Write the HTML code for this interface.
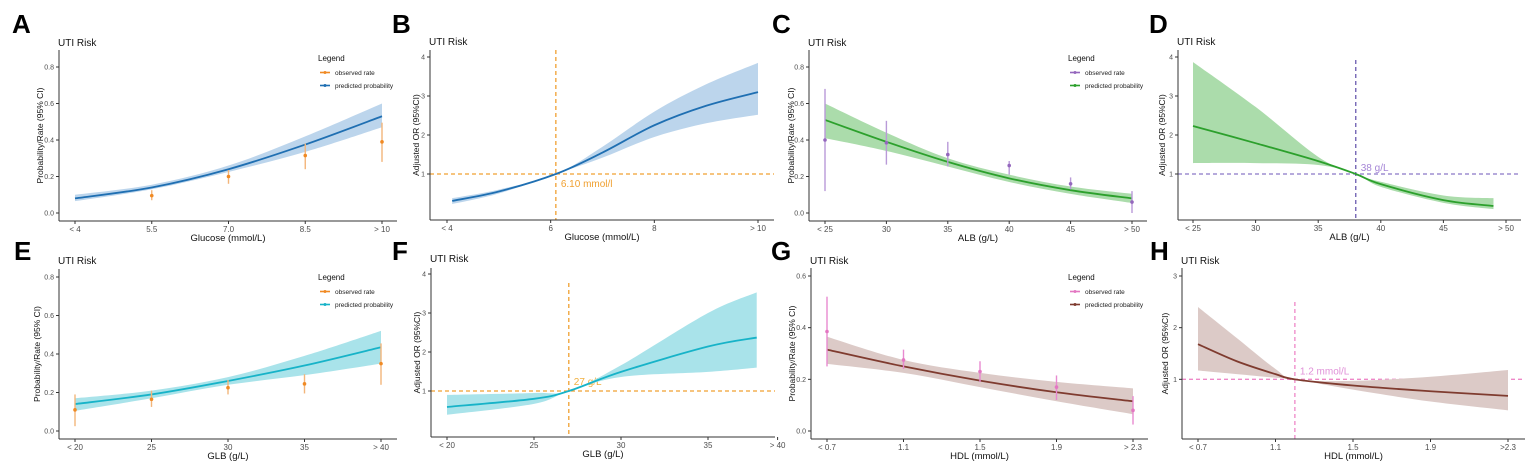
<!DOCTYPE html>
<html><head><meta charset="utf-8"><style>
html,body{margin:0;padding:0;background:#fff}
svg{display:block;font-family:"Liberation Sans",Arial,sans-serif}
</style></head><body>
<svg id="fig" width="1535" height="471" viewBox="0 0 1535 471" xmlns="http://www.w3.org/2000/svg"></svg>
<script>
// ---- Panel A data (Glucose, probability) ----
const A_x=[4,5.5,7,8.5,10];
const A_fit=[0.08,0.14,0.24,0.375,0.53];
const A_lo=[0.065,0.13,0.225,0.335,0.47];
const A_hi=[0.10,0.155,0.26,0.42,0.60];
const A_obsX=[5.5,7,8.5,10];
const A_obs=[0.095,0.20,0.315,0.39];
const A_obsLo=[0.07,0.16,0.24,0.28];
const A_obsHi=[0.125,0.235,0.38,0.495];
const A_xticks=[4,5.5,7,8.5,10];
const A_xlabels=["< 4","5.5","7.0","8.5","> 10"];
const P_yticks=[0,0.2,0.4,0.6,0.8];
const P_ylabels=["0.0","0.2","0.4","0.6","0.8"];
// ---- Panel B data (Glucose, OR) ----
const B_x=[4.1,5,6.1,7,8,9,10];
const B_fit=[0.31,0.55,1,1.55,2.25,2.75,3.1];
const B_lo=[0.23,0.5,1,1.42,1.95,2.3,2.52];
const B_hi=[0.38,0.6,1,1.7,2.6,3.3,3.85];
const B_xticks=[4,6,8,10];
const B_xlabels=["< 4","6","8","> 10"];
const OR_yticks=[1,2,3,4];
const OR_ylabels=["1","2","3","4"];
// ---- Panel C data (ALB, probability) ----
const C_x=[25,30,35,40,45,50];
const C_fit=[0.51,0.39,0.28,0.19,0.125,0.08];
const C_lo=[0.41,0.34,0.255,0.17,0.105,0.055];
const C_hi=[0.60,0.44,0.30,0.21,0.145,0.105];
const C_obsX=[25,30,35,40,45,50];
const C_obs=[0.40,0.385,0.32,0.26,0.16,0.06];
const C_obsLo=[0.12,0.265,0.255,0.21,0.13,0.0];
const C_obsHi=[0.68,0.505,0.39,0.285,0.195,0.12];
const ALB_xticks=[25,30,35,40,45,50];
const ALB_xlabels=["< 25","30","35","40","45","> 50"];
// ---- Panel D data (ALB, OR) ----
const D_x=[25,30,35,38,40,45,49];
const D_fit=[2.23,1.79,1.33,1,0.74,0.33,0.18];
const D_lo=[1.28,1.28,1.23,1,0.67,0.26,0.1];
const D_hi=[3.87,2.72,1.44,1,0.8,0.45,0.38];
// ---- Panel E data (GLB, probability) ----
const E_x=[20,25,30,35,40];
const E_fit=[0.14,0.19,0.26,0.34,0.435];
const E_lo=[0.105,0.17,0.24,0.29,0.35];
const E_hi=[0.17,0.21,0.28,0.39,0.52];
const E_obsX=[20,25,30,35,40];
const E_obs=[0.11,0.165,0.225,0.245,0.35];
const E_obsLo=[0.025,0.125,0.19,0.195,0.24];
const E_obsHi=[0.19,0.21,0.265,0.295,0.455];
const E_xticks=[20,25,30,35,40];
const E_xlabels=["< 20","25","30","35","> 40"];
// ---- Panel F data (GLB, OR) ----
const F_x=[20,25,27,30,35,37.8];
const F_fit=[0.59,0.8,1,1.49,2.14,2.37];
const F_lo=[0.39,0.67,1,1.36,1.49,1.6];
const F_hi=[0.9,0.95,1,1.66,3.0,3.53];
const F_xticks=[20,25,30,35,39];
const F_xlabels=["< 20","25","30","35","> 40"];
// ---- Panel G data (HDL, probability) ----
const G_x=[0.7,1.1,1.5,1.9,2.3];
const G_fit=[0.315,0.25,0.195,0.15,0.115];
const G_lo=[0.26,0.225,0.17,0.115,0.065];
const G_hi=[0.365,0.275,0.225,0.19,0.165];
const G_obsX=[0.7,1.1,1.5,1.9,2.3];
const G_obs=[0.385,0.275,0.23,0.17,0.08];
const G_obsLo=[0.25,0.24,0.19,0.12,0.025];
const G_obsHi=[0.52,0.315,0.27,0.215,0.135];
const G_yticks=[0,0.2,0.4,0.6];
const G_ylabels=["0.0","0.2","0.4","0.6"];
const HDL_xticks=[0.7,1.1,1.5,1.9,2.3];
const G_xlabels=["< 0.7","1.1","1.5","1.9","> 2.3"];
// ---- Panel H data (HDL, OR) ----
const H_x=[0.7,0.9,1.1,1.2,1.5,1.9,2.3];
const H_fit=[1.68,1.35,1.1,1,0.88,0.77,0.68];
const H_lo=[1.17,1.1,1.03,1,0.8,0.57,0.4];
const H_hi=[2.4,1.8,1.2,1,0.97,1.05,1.18];
const H_yticks=[1,2,3];
const H_ylabels=["1","2","3"];
const H_xlabels=["< 0.7","1.1","1.5","1.9",">2.3"];

const NS="http://www.w3.org/2000/svg";
const svg=document.getElementById('fig');
function mk(tag,attrs,parent,text){const e=document.createElementNS(NS,tag);for(const k in attrs)e.setAttribute(k,attrs[k]);if(text!==undefined)e.textContent=text;(parent||svg).appendChild(e);return e;}
function lin(d0,d1,p0,p1){return v=>p0+(v-d0)/(d1-d0)*(p1-p0);}
function smooth(pts){let d="M"+pts[0][0]+","+pts[0][1];for(let i=0;i<pts.length-1;i++){const p0=pts[Math.max(0,i-1)],p1=pts[i],p2=pts[i+1],p3=pts[Math.min(pts.length-1,i+2)];const c1=[p1[0]+(p2[0]-p0[0])/6,p1[1]+(p2[1]-p0[1])/6],c2=[p2[0]-(p3[0]-p1[0])/6,p2[1]-(p3[1]-p1[1])/6];d+=" C"+c1[0]+","+c1[1]+" "+c2[0]+","+c2[1]+" "+p2[0]+","+p2[1];}return d;}
function smoothRev(pts){const r=pts.slice().reverse();return smooth(r).replace(/^M/," L");}

function panel(c){
  const g=mk('g',{});
  
  
  const X=lin(c.xd[0],c.xd[1],c.xp[0],c.xp[1]);
  const Y=lin(c.yd[0],c.yd[1],c.yp[0],c.yp[1]);
  const L=mk('text',{x:c.lp[0],y:c.lp[1],'font-size':26,'font-weight':'bold',fill:'#000'},g,c.letter);
  
  const T=mk('text',{x:c.ax-1,y:c.ay-175,'font-size':10,fill:'#111'},g,'UTI Risk');
  
  if(c.ref){
    const h=mk('line',{x1:c.ax,x2:c.right,y1:Y(1),y2:Y(1),stroke:c.refH,'stroke-width':1.3,'stroke-dasharray':'4,3'},g);
    
    const v=mk('line',{x1:X(c.ref),x2:X(c.ref),y1:c.vtop,y2:c.ay,stroke:c.refV,'stroke-width':1.3,'stroke-dasharray':'4,3'},g);
    
    const t=mk('text',{x:X(c.ref)+5,y:Y(1)+c.refDy,'font-size':10,fill:c.refT},g,c.refLabel);
    
  }
  const hi=c.x.map((v,i)=>[X(v),Y(c.hi[i])]),lo=c.x.map((v,i)=>[X(v),Y(c.lo[i])]);
  const band=mk('path',{d:smooth(hi)+smoothRev(lo)+" Z",fill:c.band,stroke:'none'},g);
  
  const line=mk('path',{d:smooth(c.x.map((v,i)=>[X(v),Y(c.fit[i])])),fill:'none',stroke:c.line,'stroke-width':1.8},g);
  
  if(c.ox){
    c.ox.forEach((v,i)=>{
      const e=mk('line',{x1:X(v),x2:X(v),y1:Y(c.olo[i]),y2:Y(c.ohi[i]),stroke:c.errC,'stroke-width':1.4},g);
      
      const p=mk('circle',{cx:X(v),cy:Y(c.o[i]),r:1.8,fill:c.ptC},g);
      
    });
  }
  const ya=mk('line',{x1:c.ax,x2:c.ax,y1:c.top,y2:c.ay,stroke:'#333','stroke-width':1},g);
  
  const xa=mk('line',{x1:c.ax,x2:c.right,y1:c.ay,y2:c.ay,stroke:'#333','stroke-width':1},g);
  
  c.yt.forEach((v,i)=>{
    mk('line',{x1:c.ax-3,x2:c.ax,y1:Y(v),y2:Y(v),stroke:'#333'},g);
    const t=mk('text',{x:c.ax-5,y:Y(v)+2.5,'font-size':7,fill:'#4d4d4d','text-anchor':'end'},g,c.yl[i]);
    
  });
  c.xt.forEach((v,i)=>{
    mk('line',{x1:X(v),x2:X(v),y1:c.ay,y2:c.ay+3,stroke:'#333'},g);
    const t=mk('text',{x:X(v),y:c.ay+11,'font-size':8,fill:'#4d4d4d','text-anchor':'middle'},g,c.xl[i]);
    
  });
  const xt=mk('text',{x:(c.ax+c.right)/2,y:c.ay+20,'font-size':9.5,fill:'#111','text-anchor':'middle'},g,c.xtitle);
  
  const cy=(c.top+c.ay)/2;
  const yt=mk('text',{x:c.ytx,y:cy,'font-size':8.5,fill:'#111','text-anchor':'middle',transform:`rotate(-90 ${c.ytx} ${cy})`},g,c.ytitle);
  
  if(c.legend){
    const lg=mk('g',{},g);
    
    const lx=c.legend[0],ly=c.legend[1];
    mk('text',{x:lx,y:ly,'font-size':8,fill:'#111'},lg,'Legend');
    [[c.ptC,'observed rate'],[c.line,'predicted probability']].forEach((e,i)=>{
      const yy=ly+14+i*13;
      const it=mk('g',{},lg);
      
      mk('line',{x1:lx+2,x2:lx+12,y1:yy-2.5,y2:yy-2.5,stroke:e[0],'stroke-width':1.6},it);
      mk('circle',{cx:lx+7,cy:yy-2.5,r:1.5,fill:e[0]},it);
      mk('text',{x:lx+17,y:yy,'font-size':6.5,fill:'#222'},it,e[1]);
    });
  }
}
const PROB='Probability/Rate (95% CI)',OR='Adjusted OR (95%CI)';
panel({letter:'A',lp:[12,33],ax:59,ay:221,top:50,right:397,xd:[4,10],xp:[75,382],yd:[0,0.8],yp:[213,67],
  x:A_x,fit:A_fit,lo:A_lo,hi:A_hi,ox:A_obsX,o:A_obs,olo:A_obsLo,ohi:A_obsHi,
  xt:A_xticks,xl:A_xlabels,yt:P_yticks,yl:P_ylabels,xtitle:'Glucose (mmol/L)',ytitle:PROB,ytx:43,
  line:'#1f6fb2',band:'#bcd5ec',errC:'#f3b57a',ptC:'#f08a24',legend:[318,61]});
panel({letter:'B',lp:[392,33],ax:430,ay:220,top:50,right:774,xd:[4,10],xp:[447,758],yd:[0,4],yp:[213,57],
  x:B_x,fit:B_fit,lo:B_lo,hi:B_hi,xt:B_xticks,xl:B_xlabels,yt:OR_yticks,yl:OR_ylabels,
  xtitle:'Glucose (mmol/L)',ytitle:OR,ytx:419,line:'#1f6fb2',band:'#bcd5ec',
  ref:6.1,vtop:50,refH:'#f0a030',refV:'#f0a030',refT:'#f0a030',refLabel:'6.10 mmol/l',refDy:13});
panel({letter:'C',lp:[772,33],ax:809,ay:221,top:50,right:1147,xd:[25,50],xp:[825,1132],yd:[0,0.8],yp:[213,67],
  x:C_x,fit:C_fit,lo:C_lo,hi:C_hi,ox:C_obsX,o:C_obs,olo:C_obsLo,ohi:C_obsHi,
  xt:ALB_xticks,xl:ALB_xlabels,yt:P_yticks,yl:P_ylabels,xtitle:'ALB (g/L)',ytitle:PROB,ytx:794,
  line:'#2ca02c',band:'#abdcab',errC:'#b99ad8',ptC:'#9467bd',legend:[1068,61]});
panel({letter:'D',lp:[1149,33],ax:1178,ay:220,top:50,right:1521,xd:[25,50],xp:[1193,1506],yd:[0,4],yp:[213,57],
  x:D_x,fit:D_fit,lo:D_lo,hi:D_hi,xt:ALB_xticks,xl:ALB_xlabels,yt:OR_yticks,yl:OR_ylabels,
  xtitle:'ALB (g/L)',ytitle:OR,ytx:1165,line:'#2ca02c',band:'#abdcab',
  ref:38,vtop:60,refH:'#8a78c8',refV:'#6a5ab0',refT:'#a585d6',refLabel:'38 g/L',refDy:-3});
panel({letter:'E',lp:[14,260],ax:59,ay:439,top:269,right:397,xd:[20,40],xp:[75,381],yd:[0,0.8],yp:[431,277],
  x:E_x,fit:E_fit,lo:E_lo,hi:E_hi,ox:E_obsX,o:E_obs,olo:E_obsLo,ohi:E_obsHi,
  xt:E_xticks,xl:E_xlabels,yt:P_yticks,yl:P_ylabels,xtitle:'GLB (g/L)',ytitle:PROB,ytx:40,
  line:'#17b3c8',band:'#a9e3ea',errC:'#f3b57a',ptC:'#f08a24',legend:[318,280]});
panel({letter:'F',lp:[392,260],ax:431,ay:437,top:268,right:775,xd:[25,35],xp:[534,708],yd:[0,4],yp:[430,274],
  x:F_x,fit:F_fit,lo:F_lo,hi:F_hi,xt:F_xticks,xl:F_xlabels,yt:OR_yticks,yl:OR_ylabels,
  xtitle:'GLB (g/L)',ytitle:OR,ytx:420,line:'#17b3c8',band:'#a9e3ea',
  ref:27,vtop:283,refH:'#f0a030',refV:'#f0a030',refT:'#f0b040',refLabel:'27 g/L',refDy:-6});
panel({letter:'G',lp:[771,260],ax:811,ay:439,top:268,right:1148,xd:[0.7,2.3],xp:[827,1133],yd:[0,0.6],yp:[431,276],
  x:G_x,fit:G_fit,lo:G_lo,hi:G_hi,ox:G_obsX,o:G_obs,olo:G_obsLo,ohi:G_obsHi,
  xt:HDL_xticks,xl:G_xlabels,yt:G_yticks,yl:G_ylabels,xtitle:'HDL (mmol/L)',ytitle:PROB,ytx:795,
  line:'#7f3b2f',band:'#dccac7',errC:'#e88ad0',ptC:'#e377c2',legend:[1068,280]});
panel({letter:'H',lp:[1150,260],ax:1182,ay:439,top:268,right:1525,xd:[0.7,2.3],xp:[1198,1508],yd:[0,3],yp:[431,276],
  x:H_x,fit:H_fit,lo:H_lo,hi:H_hi,xt:HDL_xticks,xl:H_xlabels,yt:H_yticks,yl:H_ylabels,
  xtitle:'HDL (mmol/L)',ytitle:OR,ytx:1168,line:'#7f3b2f',band:'#dccac7',
  ref:1.2,vtop:302,refH:'#ee88c8',refV:'#ee88c8',refT:'#e090d8',refLabel:'1.2 mmol/L',refDy:-5});
</script>
</body></html>
